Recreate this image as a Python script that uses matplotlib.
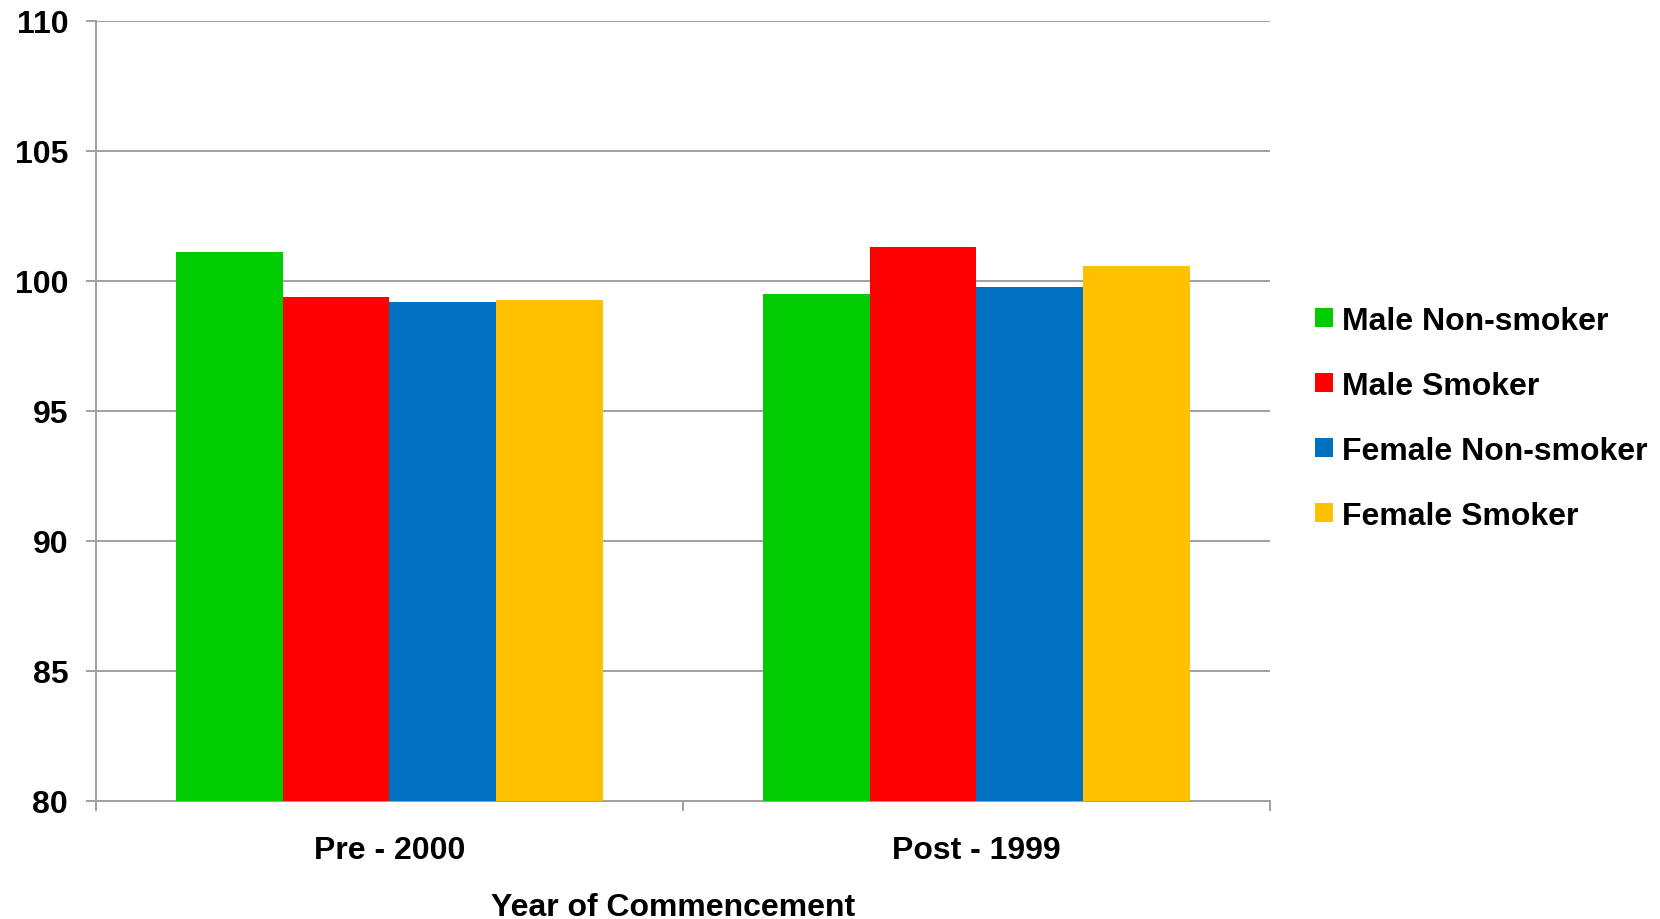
import matplotlib
matplotlib.use('Agg')
import matplotlib.pyplot as plt
import numpy as np

# data
categories = ['Pre - 2000', 'Post - 1999']
series_names = ['Male Non-smoker', 'Male Smoker', 'Female Non-smoker', 'Female Smoker']
male_non_smoker = [101.10, 99.49]
male_smoker = [99.37, 101.30]
female_non_smoker = [99.18, 99.76]
female_smoker = [99.26, 100.57]
colors = ['#00CC00', '#FF0000', '#0070C0', '#FFC000']

plt.rcParams['font.family'] = ['Liberation Sans', 'DejaVu Sans']
plt.rcParams['font.weight'] = 'bold'
FS = 23

fig = plt.figure(figsize=(16.6, 9.2), dpi=100)
ax = fig.add_axes([0.0578, 0.1288, 0.7072, 0.8478])

values = [male_non_smoker, male_smoker, female_non_smoker, female_smoker]
n = len(values)
width = 1 / (n + 1.5)
x = np.arange(len(categories))
for i, (vals, name) in enumerate(zip(values, series_names)):
    offset = (i - (n - 1) / 2) * width
    ax.bar(x + offset, np.array(vals) - 80, width, bottom=80, color=colors[i],
           label=name, zorder=3, linewidth=0)

ax.set_ylim(80, 110)
ax.set_xlim(-0.5, len(categories) - 0.5)
ax.set_yticks(np.arange(80, 111, 5))
ax.yaxis.grid(True, color='#A0A0A0', linewidth=1.4, zorder=0)
ax.tick_params(axis='y', length=7, width=1.4, color='#A0A0A0', labelsize=FS, pad=13)

# category boundaries as major ticks, names on minor ticks
ax.set_xticks(np.arange(-0.5, len(categories), 1.0))
ax.set_xticklabels([])
ax.set_xticks(x, minor=True)
ax.set_xticklabels(categories, minor=True, fontsize=FS, fontweight='bold')
ax.tick_params(axis='x', which='major', length=7, width=1.4, color='#A0A0A0')
ax.tick_params(axis='x', which='minor', length=0, pad=25)
ax.set_xlabel('Year of Commencement', fontsize=FS, fontweight='bold')
ax.xaxis.set_label_coords(0.492, -0.117)

for side in ['top', 'right']:
    ax.spines[side].set_visible(False)
for side in ['left', 'bottom']:
    ax.spines[side].set_color('#A0A0A0')
    ax.spines[side].set_linewidth(1.4)

ax.legend(loc='center left', bbox_to_anchor=(1.014, 0.490), frameon=False,
          prop={'size': FS, 'weight': 'bold'}, handlelength=0.55, handleheight=0.55,
          handletextpad=0.3, labelspacing=1.09)

fig.savefig('out.png', dpi=100)
